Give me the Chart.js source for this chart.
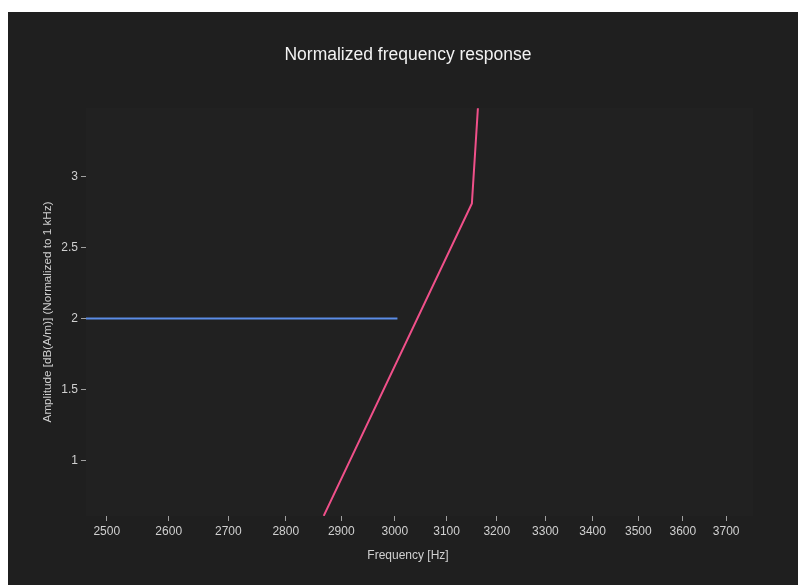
<!DOCTYPE html>
<html>
<head>
<meta charset="utf-8">
<script src="https://cdn.jsdelivr.net/npm/chart.js@4.4.1/dist/chart.umd.min.js"></script>
<style>
  html, body { margin: 0; padding: 0; background: #ffffff; }
  #wrap { position: absolute; left: 8px; top: 12px; width: 790px; height: 573px; background: #1f1f1f; }
  canvas { display: block; }
</style>
</head>
<body>
<div id="wrap"><canvas id="c" width="790" height="573"></canvas></div>
<script>
// ---- data ----
const xTickValues = [2500, 2600, 2700, 2800, 2900, 3000, 3100, 3200, 3300, 3400, 3500, 3600, 3700];
const yTickValues = [1, 1.5, 2, 2.5, 3];
const blueFreq = [2467, 3005];
const blueAmp = [2, 2];
const pinkFreq = [2868, 3150, 3162];
const pinkAmp = [0.61, 2.81, 3.48];
const titleText = 'Normalized frequency response';
const xTitleText = 'Frequency [Hz]';
const yTitleText = 'Amplitude [dB(A/m)] (Normalized to 1 kHz)';

const toPts = (xs, ys) => xs.map((x, i) => ({ x: x, y: ys[i] }));

const FONT = "'Liberation Sans', Arial, sans-serif";

const bgPlugin = {
  id: 'plotBg',
  beforeDraw(chart) {
    const a = chart.chartArea, ctx = chart.ctx;
    ctx.save();
    ctx.fillStyle = '#212121';
    ctx.fillRect(a.left, a.top, a.right - a.left, a.bottom - a.top);
    ctx.restore();
  }
};

const textPlugin = {
  id: 'titles',
  afterDraw(chart) {
    const ctx = chart.ctx;
    ctx.save();
    ctx.textAlign = 'center';
    ctx.textBaseline = 'middle';
    ctx.fillStyle = '#f2f2f2';
    ctx.font = '17.5px ' + FONT;
    ctx.fillText(titleText, 400, 43);
    ctx.fillStyle = '#d0d0d0';
    ctx.font = '12px ' + FONT;
    ctx.fillText(xTitleText, 400, 544);
    ctx.restore();
  }
};

new Chart(document.getElementById('c'), {
  type: 'scatter',
  data: {
    datasets: [
      { data: toPts(blueFreq, blueAmp), showLine: true, borderColor: '#5b8ce6', borderWidth: 2, pointRadius: 0, fill: false },
      { data: toPts(pinkFreq, pinkAmp), showLine: true, borderColor: '#f0508a', borderWidth: 2, pointRadius: 0, fill: false }
    ]
  },
  options: {
    responsive: false,
    animation: false,
    devicePixelRatio: 1,
    layout: { padding: { left: 29, top: 96, right: 45, bottom: 0 } },
    plugins: { legend: { display: false }, tooltip: { enabled: false }, title: { display: false } },
    scales: {
      x: {
        type: 'logarithmic',
        min: 2467.4,
        max: 3763.4,
        afterBuildTicks(scale) { scale.ticks = xTickValues.map(v => ({ value: v })); },
        afterFit(scale) { scale.height = 69; },
        ticks: { color: '#d0d0d0', font: { family: FONT, size: 12 }, padding: 3, maxRotation: 0, autoSkip: false, callback: v => String(v) },
        grid: { display: true, drawOnChartArea: false, drawTicks: true, tickLength: 5, tickColor: '#a0a0a0' },
        border: { display: false }
      },
      y: {
        type: 'linear',
        min: 0.609,
        max: 3.482,
        afterBuildTicks(scale) { scale.ticks = yTickValues.map(v => ({ value: v })); },
        afterFit(scale) { scale.width = 49; },
        ticks: { color: '#d0d0d0', font: { family: FONT, size: 12 }, padding: 3, autoSkip: false, callback: v => String(v) },
        grid: { display: true, drawOnChartArea: false, drawTicks: true, tickLength: 5, tickColor: '#a0a0a0' },
        border: { display: false },
        title: { display: true, text: yTitleText, color: '#d0d0d0', font: { family: FONT, size: 11.7 }, padding: { top: 4, bottom: 4 } }
      }
    }
  },
  plugins: [bgPlugin, textPlugin]
});
</script>
</body>
</html>
